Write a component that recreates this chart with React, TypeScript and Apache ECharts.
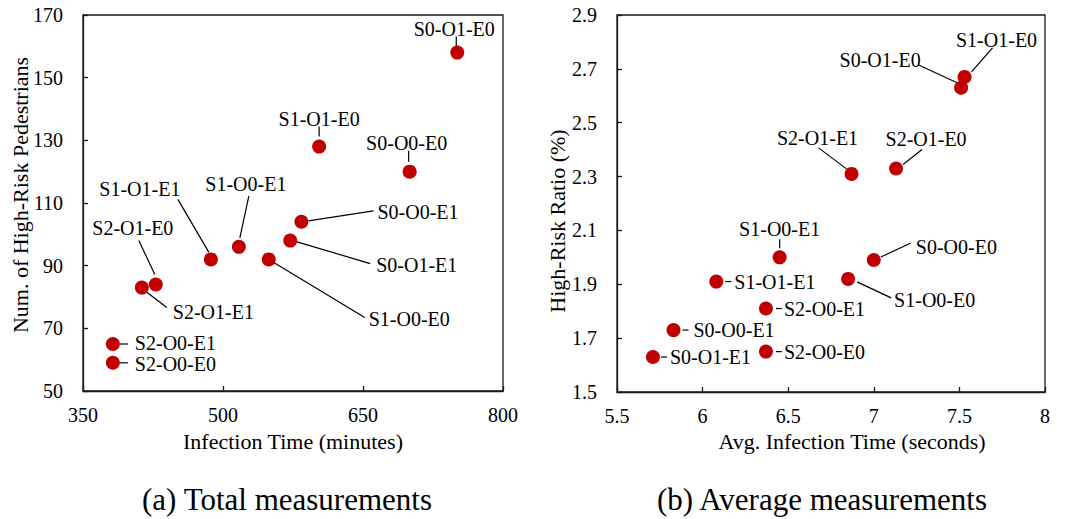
import React, { useEffect, useRef } from "react";
import * as echarts from "echarts";

// ---------- data ----------
const namesA = ["S0-O1-E0", "S1-O1-E0", "S0-O0-E0", "S1-O1-E1", "S1-O0-E1", "S2-O1-E0", "S2-O1-E1", "S2-O0-E1", "S2-O0-E0", "S0-O0-E1", "S0-O1-E1", "S1-O0-E0"];
const timeA = [751, 603, 700, 487, 517, 428, 413, 382, 382, 584, 572, 549];
const countA = [158, 128, 120, 92, 96, 84, 83, 65, 59, 104, 98, 92];

const namesB = ["S1-O1-E0", "S0-O1-E0", "S2-O1-E1", "S2-O1-E0", "S1-O0-E1", "S0-O0-E0", "S1-O0-E0", "S1-O1-E1", "S2-O0-E1", "S0-O0-E1", "S0-O1-E1", "S2-O0-E0"];
const timeB = [7.53, 7.51, 6.87, 7.13, 6.45, 7.0, 6.85, 6.08, 6.37, 5.83, 5.71, 6.37];
const ratioB = [2.67, 2.63, 2.31, 2.33, 2.0, 1.99, 1.92, 1.91, 1.81, 1.73, 1.63, 1.65];

const xTitleA = "Infection Time (minutes)";
const yTitleA = "Num. of High-Risk Pedestrians";
const xTitleB = "Avg. Infection Time (seconds)";
const yTitleB = "High-Risk Ratio (%)";
const captionA = "(a) Total measurements";
const captionB = "(b) Average measurements";

// ---------- label layout (pixel offsets from the point: line start, line end, text anchor, align) ----------
type Lay = [number, number, number, number, number, number, string];
const layA: Lay[] = [
  [-1, -6, -1, -16, -3, -24, "center"],
  [0, -10, 0, -20, 0, -28, "center"],
  [-1, -10, -1, -21, -3, -29, "center"],
  [-2, -7, -33, -60, -71, -70, "center"],
  [1, -9, 10, -51, 7, -63, "center"],
  [-1, -10, -17, -44, -23, -56, "center"],
  [4, 4, 25, 20, 31, 24, "left"],
  [7, 0, 15, 0, 22, -1, "left"],
  [7, 0, 15, 0, 22, 1, "left"],
  [7, -1, 72, -11, 76, -10, "left"],
  [6, 1, 80, 23, 86, 24, "left"],
  [5, 3, 96, 58, 100, 60, "left"],
];
const layB: Lay[] = [
  [7, -5, 28, -29, 32, -37, "center"],
  [-4, -5, -43, -23, -81, -28, "center"],
  [-5, -5, -33, -26, -34, -36, "center"],
  [7, -4, 26, -19, 30, -29, "center"],
  [0, -9, 0, -18, 0, -28, "center"],
  [7, -3, 37, -17, 42, -13, "left"],
  [9, 3, 43, 19, 46, 21, "left"],
  [9, 0, 15, 0, 18, 0, "left"],
  [10, 0, 16, 0, 18, 0, "left"],
  [9, 0, 15, 0, 20, 0, "left"],
  [8, 0, 14, 0, 17, 0, "left"],
  [10, 0, 16, 0, 18, 0, "left"],
];

const FONT = "Liberation Serif";
const RED = "#C00000";
const AXIS = "#1a1a1a";

function labelSeries(idx: number, names: string[], xs: number[], ys: number[], lay: Lay[]) {
  return {
    type: "custom",
    xAxisIndex: idx,
    yAxisIndex: idx,
    clip: false,
    z: 1,
    silent: true,
    data: xs.map((x, i) => [x, ys[i]]),
    renderItem: (params: any, api: any) => {
      const i = params.dataIndex;
      const p = api.coord([api.value(0), api.value(1)]);
      const l = lay[i];
      return {
        type: "group",
        children: [
          {
            type: "line",
            shape: { x1: p[0] + l[0], y1: p[1] + l[1], x2: p[0] + l[2], y2: p[1] + l[3] },
            style: { stroke: "#000", lineWidth: 1.2 },
          },
          {
            type: "text",
            x: p[0] + l[4],
            y: p[1] + l[5],
            style: {
              text: names[i],
              fill: "#000",
              fontSize: 20,
              fontFamily: FONT,
              align: l[6],
              verticalAlign: "middle",
            },
          },
        ],
      };
    },
  };
}

function axisCommon() {
  return {
    axisLine: { show: true, lineStyle: { color: AXIS, width: 1.3 } },
    axisTick: { show: true, inside: true, length: 5, lineStyle: { color: AXIS, width: 1.3 } },
    splitLine: { show: false },
    axisLabel: { color: "#000", fontSize: 20, fontFamily: FONT },
  };
}

export default function App() {
  const ref = useRef<HTMLDivElement>(null);
  useEffect(() => {
    if (!ref.current) return;
    const chart = echarts.init(ref.current, undefined, { renderer: "svg" });
    const titleStyle = { fill: "#000", fontSize: 22, fontFamily: FONT, align: "center", verticalAlign: "middle" };
    const capStyle = { fill: "#000", fontSize: 31, fontFamily: FONT, align: "center", verticalAlign: "middle" };
    chart.setOption({
      animation: false,
      backgroundColor: "#fff",
      textStyle: { fontFamily: FONT },
      grid: [
        { left: 83, top: 15, width: 420, height: 376, show: true, borderColor: AXIS, borderWidth: 1.3, backgroundColor: "transparent" },
        { left: 617, top: 15, width: 428, height: 377, show: true, borderColor: AXIS, borderWidth: 1.3, backgroundColor: "transparent" },
      ],
      xAxis: [
        { ...axisCommon(), type: "value", gridIndex: 0, min: 350, max: 800, interval: 150, axisLabel: { ...axisCommon().axisLabel, margin: 14 } },
        { ...axisCommon(), type: "value", gridIndex: 1, min: 5.5, max: 8, interval: 0.5, axisLabel: { ...axisCommon().axisLabel, margin: 14 } },
      ],
      yAxis: [
        { ...axisCommon(), type: "value", gridIndex: 0, min: 50, max: 170, interval: 20, axisLabel: { ...axisCommon().axisLabel, margin: 20 } },
        {
          ...axisCommon(),
          type: "value",
          gridIndex: 1,
          min: 1.5,
          max: 2.9,
          interval: 0.2,
          axisLabel: { ...axisCommon().axisLabel, margin: 20, formatter: (v: number) => v.toFixed(1) },
        },
      ],
      series: [
        labelSeries(0, namesA, timeA, countA, layA),
        labelSeries(1, namesB, timeB, ratioB, layB),
        {
          type: "scatter",
          xAxisIndex: 0,
          yAxisIndex: 0,
          z: 3,
          symbolSize: 14,
          itemStyle: { color: RED, opacity: 1 },
          data: timeA.map((x, i) => [x, countA[i]]),
        },
        {
          type: "scatter",
          xAxisIndex: 1,
          yAxisIndex: 1,
          z: 3,
          symbolSize: 14,
          itemStyle: { color: RED, opacity: 1 },
          data: timeB.map((x, i) => [x, ratioB[i]]),
        },
      ],
      graphic: [
        { type: "text", x: 293, y: 441, style: { ...titleStyle, text: xTitleA } },
        { type: "text", x: 20, y: 195, rotation: Math.PI / 2, style: { ...titleStyle, text: yTitleA } },
        { type: "text", x: 852, y: 441, style: { ...titleStyle, text: xTitleB } },
        { type: "text", x: 557, y: 221, rotation: Math.PI / 2, style: { ...titleStyle, text: yTitleB } },
        { type: "text", x: 287, y: 499, style: { ...capStyle, text: captionA } },
        { type: "text", x: 822, y: 499, style: { ...capStyle, text: captionB } },
      ],
    });
    return () => chart.dispose();
  }, []);
  return <div ref={ref} style={{ position: "fixed", left: 0, top: 0, width: 1071, height: 519, background: "#fff" }} />;
}
